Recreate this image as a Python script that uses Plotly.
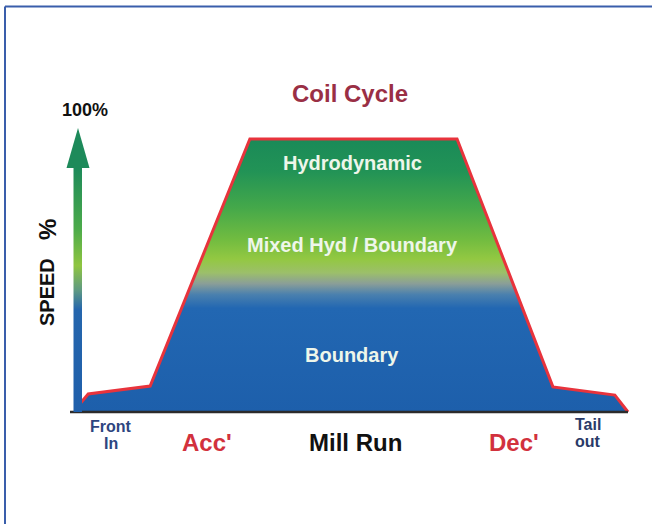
import plotly.graph_objects as go

# ---------------- data ----------------
phase_time = [0, 1.5, 12.8, 31.0, 68.8, 86.3, 97.6, 100]      # % of coil cycle
speed_pct = [3, 6.6, 9.5, 100, 100, 9.2, 6.2, 0]               # mill speed %

zone_labels = ["Hydrodynamic", "Mixed Hyd / Boundary", "Boundary"]
zone_speed = [91.2, 61.2, 20.9]

phase_labels = ["Acc'", "Mill Run", "Dec'"]
phase_label_time = [23.2, 50.2, 79.2]
phase_label_colors = ["#d2313d", "#111111", "#d2313d"]

# ---------------- geometry helpers (pixel -> data) ----------------
W, H = 652, 524
X0PX, XSCALE = 80, 5.48      # px of t=0, px per %
Y0PX, YSCALE = 412, 2.73     # px of speed=0, px per %


def tx(px):
    return (px - X0PX) / XSCALE


def sy(py):
    return (Y0PX - py) / YSCALE


FONT = "Liberation Sans, Arial, Helvetica, sans-serif"

fig = go.Figure()

# gradient-filled speed profile
fig.add_trace(go.Scatter(
    x=phase_time, y=speed_pct, mode="lines",
    line=dict(color="#e8333c", width=3),
    fill="tozeroy",
    fillgradient=dict(
        type="vertical", start=0, stop=100,
        colorscale=[
            [0.00, "#1d5fab"],
            [0.38, "#2267b2"],
            [0.43, "#4a80ae"],
            [0.47, "#8a9e98"],
            [0.51, "#9cbf6a"],
            [0.56, "#93c842"],
            [0.63, "#72bc40"],
            [0.75, "#44a84a"],
            [0.88, "#229356"],
            [1.00, "#1a8a58"],
        ],
    ),
    hoverinfo="skip", showlegend=False,
))

# baseline (time axis)
fig.add_trace(go.Scatter(
    x=[tx(70), 100], y=[0, 0], mode="lines",
    line=dict(color="#2b2b2b", width=2.5),
    hoverinfo="skip", showlegend=False,
))

# speed axis arrow: gradient shaft
shaft_l, shaft_r = tx(73.5), tx(82)
shaft_top = sy(168)
fig.add_trace(go.Scatter(
    x=[shaft_l, shaft_r, shaft_r, shaft_l, shaft_l],
    y=[0, 0, shaft_top, shaft_top, 0],
    mode="lines", line=dict(width=0), fill="toself",
    fillgradient=dict(
        type="vertical", start=0, stop=shaft_top,
        colorscale=[
            [0.00, "#1f5fab"],
            [0.42, "#2566ad"],
            [0.50, "#5f9a82"],
            [0.60, "#8fc540"],
            [0.75, "#4cab4a"],
            [1.00, "#1d8a5a"],
        ],
    ),
    hoverinfo="skip", showlegend=False,
))
# arrow head
fig.add_trace(go.Scatter(
    x=[tx(66.5), tx(89.5), tx(78), tx(66.5)],
    y=[shaft_top, shaft_top, sy(128), shaft_top],
    mode="lines", line=dict(width=0), fill="toself", fillcolor="#1d8a5a",
    hoverinfo="skip", showlegend=False,
))

annotations = []


def ann(x, y, text, size, color, angle=0):
    annotations.append(dict(
        x=x, y=y, xref="x", yref="y", text=text, showarrow=False,
        font=dict(family=FONT, size=size, color=color),
        textangle=angle, xanchor="center", yanchor="middle",
    ))


ann(tx(350), sy(93), "<b>Coil Cycle</b>", 24, "#9a2f45")
ann(tx(85), sy(110), "<b>100%</b>", 18, "#111111")
ann(tx(47), sy(292), "<b>SPEED</b>", 20, "#111111", -90)
ann(tx(47), sy(230), "<b>%</b>", 24, "#111111", -90)

for lab, s in zip(zone_labels, zone_speed):
    ann(tx(352), s, "<b>%s</b>" % lab, 20, "#eef6ea")

for lab, t, c in zip(phase_labels, phase_label_time, phase_label_colors):
    ann(t, sy(442), "<b>%s</b>" % lab, 24, c)

ann(tx(111), sy(426), "<b>Front</b>", 16, "#2d4580")
ann(tx(111), sy(443), "<b>In</b>", 16, "#2d4580")
ann(tx(588), sy(424), "<b>Tail</b>", 16, "#2a3a68")
ann(tx(588), sy(441), "<b>out</b>", 16, "#2a3a68")

shapes = [
    dict(type="line", xref="paper", yref="paper",
         x0=5 / W, x1=1, y0=1 - 6.5 / H, y1=1 - 6.5 / H,
         line=dict(color="#3a5eab", width=2)),
    dict(type="line", xref="paper", yref="paper",
         x0=5 / W, x1=5 / W, y0=0, y1=1 - 6.5 / H,
         line=dict(color="#3a5eab", width=2)),
]

fig.update_layout(
    width=W, height=H,
    margin=dict(l=0, r=0, t=0, b=0),
    paper_bgcolor="white", plot_bgcolor="white",
    xaxis=dict(range=[tx(0), tx(W)], visible=False, fixedrange=True),
    yaxis=dict(range=[sy(H), sy(0)], visible=False, fixedrange=True),
    annotations=annotations, shapes=shapes,
    showlegend=False,
)

fig.write_html(
    "out.html",
    config={"displayModeBar": False},
    post_script="document.body.style.margin='0px';document.body.style.overflow='hidden';",
)
